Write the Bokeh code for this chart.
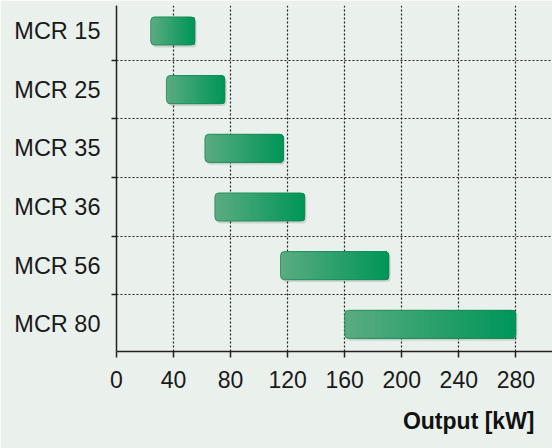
from bokeh.plotting import figure
from bokeh.models import Range1d, FixedTicker, Title, ColumnDataSource
from bokeh.embed import file_html
from bokeh.resources import INLINE

# ---- data ----
models = ["MCR 15", "MCR 25", "MCR 35", "MCR 36", "MCR 56", "MCR 80"]
out_min = [24, 35, 62, 69, 115, 160]
out_max = [55, 76, 117, 132, 191, 280]
x_ticks = [0, 40, 80, 120, 160, 200, 240, 280]

FONT = "Liberation Sans"
n = len(models)
ypos = [n - 1 - i for i in range(n)]  # MCR 15 at top

p = figure(width=552, height=448, output_backend="svg", toolbar_location=None,
           x_range=Range1d(0, 305.7), y_range=Range1d(-0.463, 5.434),
           min_border_left=116, min_border_right=0, min_border_top=5,
           min_border_bottom=0)
bg = "#eaf1ec"
p.background_fill_color = bg
p.border_fill_color = bg
p.outline_line_color = None

# shadows
p.hbar(y=[y - 0.035 for y in ypos], left=[a + 1.2 for a in out_min],
       right=[b + 1.2 for b in out_max], height=0.49,
       fill_color="#000000", fill_alpha=0.12, line_color=None, border_radius=4)

# gradient bars (overlapping slices from left to each bar's right end)
N = 28
c0 = (0x5a, 0xab, 0x80)
c1 = (0x00, 0x96, 0x5a)
full = dict(y=[], left=[], right=[], color=[])
part = dict(y=[], left=[], right=[], color=[])
for y, a, b in zip(ypos, out_min, out_max):
    for i in range(N):
        t = i / (N - 1)
        col = "#%02x%02x%02x" % tuple(int(round(c0[k] + (c1[k] - c0[k]) * t)) for k in range(3))
        d = full if i == 0 else part
        d["y"].append(y)
        d["left"].append(a + (b - a) * i / N)
        d["right"].append(b)
        d["color"].append(col)
p.hbar(y="y", left="left", right="right", height=0.48, fill_color="color",
       line_color=None, border_radius=4, source=ColumnDataSource(full))
p.hbar(y="y", left="left", right="right", height=0.48, fill_color="color",
       line_color=None, border_radius=(0, 4, 4, 0), source=ColumnDataSource(part))
# outline
p.hbar(y=ypos, left=out_min, right=out_max, height=0.48, fill_color=None,
       line_color="#17894f", line_width=1, line_alpha=0.8, border_radius=4)

# axes
p.xaxis.ticker = FixedTicker(ticks=x_ticks)
p.yaxis.ticker = FixedTicker(ticks=ypos, minor_ticks=[y + 0.5 for y in range(n - 1)])
p.yaxis.major_label_overrides = {y: m for y, m in zip(ypos, models)}

for ax in (p.xaxis[0], p.yaxis[0]):
    ax.axis_line_color = "#222222"
    ax.axis_line_width = 1.5
    ax.major_label_text_font = FONT
    ax.major_label_text_color = "#1a1a1a"
p.xaxis.major_label_text_font_size = "23px"
p.yaxis.major_label_text_font_size = "23.5px"

p.xaxis.major_tick_line_color = "#222222"
p.xaxis.major_tick_line_width = 1.5
p.xaxis.major_tick_out = 6
p.xaxis.major_tick_in = 0
p.xaxis.minor_tick_line_color = None
p.xaxis.major_label_standoff = 13

p.yaxis.major_tick_line_color = None
p.yaxis.major_tick_out = 0
p.yaxis.major_tick_in = 0
p.yaxis.minor_tick_line_color = "#222222"
p.yaxis.minor_tick_line_width = 1.5
p.yaxis.minor_tick_out = 5
p.yaxis.minor_tick_in = 0
p.yaxis.major_label_standoff = 11

# grids
p.xgrid.grid_line_color = "#222222"
p.xgrid.grid_line_dash = "2 2"
p.xgrid.grid_line_width = 1.2
p.ygrid.grid_line_color = None
p.ygrid.minor_grid_line_color = "#222222"
p.ygrid.minor_grid_line_dash = "2 2"
p.ygrid.minor_grid_line_width = 1.2
p.xgrid.level = "underlay"
p.ygrid.level = "underlay"

t = Title(text="Output [kW]", align="right", offset=18, standoff=30,
          text_font=FONT, text_font_size="23px", text_font_style="bold",
          text_color="#111111", text_line_height=1.5)
p.add_layout(t, "below")

open("out.html", "w").write(file_html(p, INLINE))
